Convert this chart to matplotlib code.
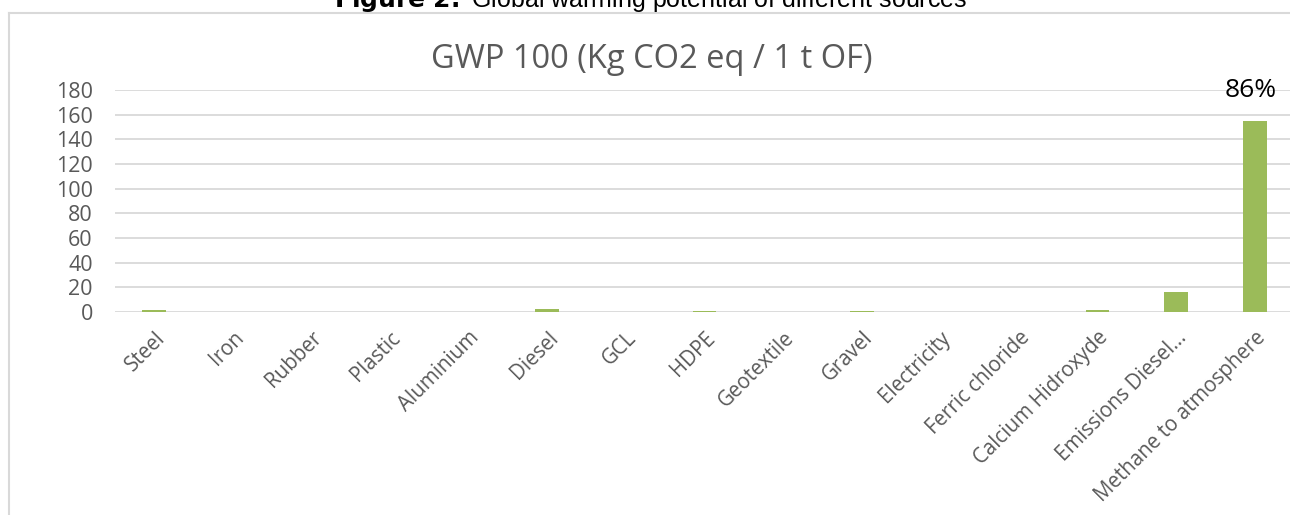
import matplotlib.pyplot as plt
from matplotlib.lines import Line2D

sources = ["Steel", "Iron", "Rubber", "Plastic", "Aluminium", "Diesel", "GCL", "HDPE",
           "Geotextile", "Gravel", "Electricity", "Ferric chloride", "Calcium Hidroxyde",
           "Emissions Diesel...", "Methane to atmosphere"]
gwp = [1.5, 0.1, 0.05, 0.05, 0.1, 2.5, 0.1, 0.6, 0.2, 0.6, 0.1, 0.1, 1.3, 16.0, 155.0]
share_label = "86%"

green = "#9bbb59"
grey_text = "#595959"
grid_col = "#d9d9d9"

W, H = 1290, 515
fig = plt.figure(figsize=(W / 100, H / 100), dpi=100)


def fx(px):
    return px / W


def fy(py):
    return 1 - py / H


# chart frame (only left and top edges visible)
fig.add_artist(Line2D([fx(9), fx(9)], [fy(13), 0], color=grid_col, lw=1.5))
fig.add_artist(Line2D([fx(9), 1], [fy(13), fy(13)], color=grid_col, lw=1.5))

fig.text(fx(651), fy(7), r"$\bf{Figure\ 2.}$ Global warming potential of different sources",
         ha="center", va="baseline", fontsize=18, family="Liberation Sans")

ax = fig.add_axes([fx(115), fy(312), fx(1294) - fx(115), fy(90) - fy(312)])
x = range(len(sources))
ax.bar(x, gwp, width=0.305, color=green, zorder=3)
ax.set_xlim(-0.5, len(sources) - 0.5)
ax.set_ylim(0, 180)
ax.set_yticks(range(0, 181, 20))
ax.grid(axis="y", color=grid_col, lw=1.3, zorder=0)
for s in ax.spines.values():
    s.set_visible(False)
ax.tick_params(length=0, colors=grey_text)
ax.set_xticks(list(x))
ax.set_xticklabels(sources, rotation=45, ha="right", rotation_mode="anchor",
                   fontsize=14.8, family="Open Sans", color=grey_text)
for lab in ax.get_yticklabels():
    lab.set_family("Open Sans")
    lab.set_fontsize(15.5)
ax.tick_params(axis="y", pad=16)
ax.tick_params(axis="x", pad=11)

ax.annotate(share_label, (x[-1], gwp[-1]), xytext=(-3, 17), textcoords="offset points",
            ha="center", va="baseline", fontsize=19, family="Open Sans", color="black")

fig.text(fx(652), fy(60), "GWP 100 (Kg CO2 eq / 1 t OF)", ha="center", va="center",
         fontsize=23.5, family="Open Sans", color=grey_text)

fig.savefig("out.png", dpi=100)
